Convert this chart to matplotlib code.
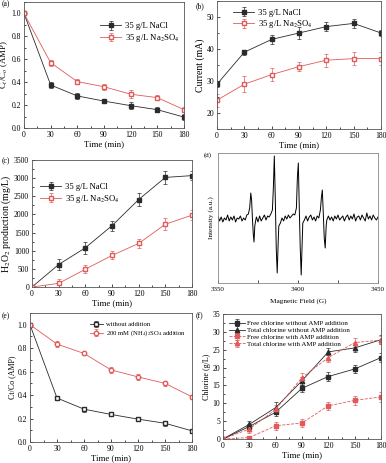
"""
plot.py
Six panel figure: AMP removal, current, H2O2, EPR, (NH4)2SO4 effect, chlorine
"""

import numpy as np
import matplotlib.pyplot as plt
from matplotlib.ticker import MultipleLocator

# Data
time = [0, 30, 60, 90, 120, 150, 180]

# (a) AMP removal
a_nacl = [1.0, 0.375, 0.28, 0.235, 0.195, 0.16, 0.095]
a_nacl_err = [0.01, 0.025, 0.025, 0.02, 0.03, 0.02, 0.025]
a_na2so4 = [1.0, 0.57, 0.405, 0.36, 0.295, 0.265, 0.16]
a_na2so4_err = [0.01, 0.025, 0.02, 0.025, 0.035, 0.02, 0.02]

# (b) current
b_nacl = [29, 39, 43, 45, 47, 48, 45]
b_nacl_err = [1.0, 0.8, 1.5, 2.0, 1.5, 1.5, 1.0]
b_na2so4 = [24, 29, 32, 34.5, 36.5, 37, 37]
b_na2so4_err = [2.0, 2.5, 2.0, 1.5, 2.0, 2.0, 2.0]

# (c) H2O2 production
c_nacl = [0, 620, 1080, 1690, 2410, 3020, 3070]
c_nacl_err = [30, 150, 160, 140, 170, 170, 120]
c_na2so4 = [0, 100, 490, 870, 1200, 1730, 1980]
c_na2so4_err = [30, 130, 110, 110, 120, 160, 130]

# (d) EPR spectrum (field in G, intensity in a.u.)
epr_field = [3350, 3351, 3352, 3353, 3354, 3355, 3356, 3357, 3358, 3359,
             3360, 3361, 3362, 3363, 3364, 3365, 3366, 3367, 3368, 3369,
             3369.8, 3370.5, 3371, 3371.5, 3372, 3372.5, 3373, 3373.5,
             3374, 3375, 3376, 3377, 3378, 3379, 3380, 3381, 3382, 3383,
             3384, 3384.6, 3385.2, 3385.8, 3386.4, 3387, 3387.6, 3388,
             3389, 3390, 3391, 3392, 3393, 3394, 3395, 3396, 3397, 3398,
             3399, 3399.6, 3400.2, 3400.8, 3401.4, 3402, 3402.6, 3403,
             3404, 3405, 3406, 3407, 3408, 3409, 3410, 3411, 3412, 3413,
             3414, 3414.6, 3415.2, 3415.8, 3416.4, 3417, 3417.6, 3418,
             3419, 3420, 3421, 3422, 3423, 3424, 3425, 3426, 3427, 3428,
             3429, 3430, 3431, 3432, 3433, 3434, 3435, 3436, 3437, 3438,
             3439, 3440, 3441, 3442, 3443, 3444, 3445, 3446, 3447, 3448,
             3449, 3450]
epr_int = [2, -3, 1, -4, 0, -2, 3, -3, 1, -2,
           2, -4, 0, -1, 2, -3, 0, -2, 3, 4,
           10, 25, 18, 0, -15, -24, -8, -3,
           1, -4, 2, -3, 0, 3, -2, 2, 1, 4,
           8, 30, 62, 20, -30, -55, -25, -8,
           -5, 0, -3, 2, -1, 3, 0, 2, 4, 3,
           10, 40, 55, 10, -30, -57, -25, -5,
           -2, 2, -3, 1, 3, -2, 1, -3, 2, 0,
           8, 20, 28, 5, -20, -30, -8, -2,
           2, -2, 1, -3, 2, -1, 3, -2, 0, 2,
           -3, 1, 3, -2, 2, -1, 4, -3, 1, 2,
           -2, 3, 0, -3, 5, -1, 2, -2, 3, 0,
           -2, 1]

# (e) effect of (NH4)2SO4
e_without = [1.0, 0.375, 0.28, 0.235, 0.195, 0.16, 0.095]
e_without_err = [0.01, 0.02, 0.02, 0.015, 0.015, 0.02, 0.02]
e_with = [1.0, 0.835, 0.755, 0.615, 0.555, 0.50, 0.385]
e_with_err = [0.01, 0.025, 0.015, 0.025, 0.025, 0.02, 0.02]

# (f) chlorine
f_free_without = [0, 3.5, 7.5, 14.2, 17.5, 19.6, 22.8]
f_free_without_err = [0.2, 0.8, 1.0, 1.0, 1.2, 1.2, 1.2]
f_total_without = [0, 4.1, 8.8, 16.3, 24.4, 25.5, 27.8]
f_total_without_err = [0.2, 1.0, 1.5, 1.2, 1.0, 1.2, 1.2]
f_free_with = [0, 0.4, 3.7, 4.5, 9.3, 10.8, 11.8]
f_free_with_err = [0.2, 0.5, 1.2, 1.0, 1.2, 1.2, 1.5]
f_total_with = [0, 2.8, 8.3, 17.2, 22.8, 27.0, 27.7]
f_total_with_err = [0.2, 1.0, 1.2, 1.2, 1.2, 1.2, 1.2]

# Figure size in pixels
W, H = 386, 463
BLK = '#2b2b2b'
RED = '#e05a5a'
FS = 5.5

plt.rcParams['font.family'] = ['Liberation Serif', 'DejaVu Serif']
plt.rcParams['mathtext.fontset'] = 'stix'
plt.rcParams['font.size'] = FS


def add_axes(fig, left, top, right, bottom):
    # pixel box -> figure fraction
    return fig.add_axes([left / W, 1 - bottom / H, (right - left) / W, (bottom - top) / H])


def style(ax):
    ax.tick_params(which='both', direction='in', labelsize=FS, width=0.5, pad=2)
    ax.tick_params(which='major', length=2.5)
    ax.tick_params(which='minor', length=1.5)
    for s in ax.spines.values():
        s.set_linewidth(0.6)
        s.set_color('#555555')
    ax.set_xlim(0, 180)
    ax.xaxis.set_major_locator(MultipleLocator(30))
    ax.xaxis.set_minor_locator(MultipleLocator(15))
    ax.set_xlabel('Time (min)', fontsize=FS + 0.8, labelpad=1)


def series(ax, y, err, col, mfc, marker, ls, label):
    ax.errorbar(time, y, yerr=err, color=col, mfc=mfc, mec=col, marker=marker,
                ms=3.2, lw=0.6, ls=ls, elinewidth=0.5, capsize=1.5, capthick=0.5,
                ecolor=col, label=label)


def legend(ax, **kw):
    ax.legend(frameon=False, fontsize=FS + 0.7, handlelength=2.5, handletextpad=0.4,
              labelspacing=0.2, **kw)


fig = plt.figure(figsize=(W / 100, H / 100), dpi=100)

# (a)
ax = add_axes(fig, 24, 2, 184, 128)
series(ax, a_nacl, a_nacl_err, BLK, BLK, 's', '-', '35 g/L NaCl')
series(ax, a_na2so4, a_na2so4_err, RED, 'white', 's', '-', '35 g/L Na$_2$SO$_4$')
ax.set_ylim(0, 1.1)
ax.yaxis.set_major_locator(MultipleLocator(0.2))
ax.yaxis.set_minor_locator(MultipleLocator(0.1))
ax.set_ylabel('C$_t$/C$_o$ (AMP)', fontsize=FS + 0.8, labelpad=1)
style(ax)
legend(ax, loc='upper right', bbox_to_anchor=(1.02, 0.9))
fig.text(2 / W, 1 - 6 / H, '(a)', fontsize=FS)

# (b)
ax = add_axes(fig, 217, 1, 381, 129)
series(ax, b_nacl, b_nacl_err, BLK, BLK, 's', '-', '35 g/L NaCl')
series(ax, b_na2so4, b_na2so4_err, RED, 'white', 's', '-', '35 g/L Na$_2$SO$_4$')
ax.set_ylim(15, 55)
ax.yaxis.set_major_locator(MultipleLocator(10))
ax.yaxis.set_minor_locator(MultipleLocator(5))
ax.set_ylabel('Current (mA)', fontsize=FS + 1.5, labelpad=1)
style(ax)
legend(ax, loc='upper left', bbox_to_anchor=(0.05, 1.0))
fig.text(196 / W, 1 - 8 / H, '(b)', fontsize=FS)

# (c)
ax = add_axes(fig, 32, 160, 192, 287)
series(ax, c_nacl, c_nacl_err, BLK, BLK, 's', '-', '35 g/L NaCl')
series(ax, c_na2so4, c_na2so4_err, RED, 'white', 's', '-', '35 g/L Na$_2$SO$_4$')
ax.set_ylim(0, 3500)
ax.yaxis.set_major_locator(MultipleLocator(500))
ax.yaxis.set_minor_locator(MultipleLocator(250))
ax.set_ylabel('H$_2$O$_2$ production (mg/L)', fontsize=FS + 1.5, labelpad=1)
style(ax)
legend(ax, loc='upper left', bbox_to_anchor=(0.0, 0.88))
fig.text(2 / W, 1 - 163 / H, '(c)', fontsize=FS)

# (d)
ax = add_axes(fig, 218, 153, 378, 283)
ax.plot(epr_field, epr_int, color='black', lw=0.7)
ax.set_xlim(3350, 3450)
ax.set_ylim(-65, 65)
ax.set_xticks([3350, 3400, 3450])
ax.xaxis.set_minor_locator(MultipleLocator(25))
ax.set_yticks([])
ax.tick_params(which='both', direction='in', labelsize=FS - 0.5, width=0.5, pad=3)
ax.tick_params(which='major', length=2.5)
ax.tick_params(which='minor', length=2.5)
for s in ax.spines.values():
    s.set_linewidth(0.6)
    s.set_color('#888888')
ax.set_xlabel('Magnetic Field (G)', fontsize=FS - 0.3, labelpad=4)
ax.set_ylabel('Intensity (a.u.)', fontsize=FS - 0.3, labelpad=3)
fig.text(204 / W, 1 - 157 / H, '(d)', fontsize=FS - 0.5)

# (e)
ax = add_axes(fig, 30, 313, 192, 442)
series(ax, e_without, e_without_err, BLK, 'white', 's', '-', 'without addition')
series(ax, e_with, e_with_err, RED, 'white', 'o', '-', '200 mM (NH$_4$)$_2$SO$_4$ addition')
ax.set_ylim(0, 1.1)
ax.yaxis.set_major_locator(MultipleLocator(0.2))
ax.yaxis.set_minor_locator(MultipleLocator(0.1))
ax.set_ylabel('Ct/Co (AMP)', fontsize=FS + 0.3, labelpad=1)
style(ax)
ax.legend(frameon=False, fontsize=FS - 0.7, handlelength=2, handletextpad=0.4,
          labelspacing=0.2, loc='upper right', bbox_to_anchor=(1.0, 0.98))
fig.text(2 / W, 1 - 318 / H, '(e)', fontsize=FS)

# (f)
ax = add_axes(fig, 223, 314, 381, 439)
series(ax, f_free_without, f_free_without_err, BLK, BLK, 's', '-', 'Free chlorine without AMP addition')
series(ax, f_total_without, f_total_without_err, BLK, BLK, '^', '-', 'Total chlorine without AMP addition')
series(ax, f_free_with, f_free_with_err, RED, RED, 's', '--', 'Free chlorine with AMP addition')
series(ax, f_total_with, f_total_with_err, RED, RED, '^', '--', 'Total chlorine with AMP addition')
ax.set_ylim(0, 35)
ax.yaxis.set_major_locator(MultipleLocator(5))
ax.yaxis.set_minor_locator(MultipleLocator(2.5))
ax.set_ylabel('Chlorine (g/L)', fontsize=FS + 0.3, labelpad=1)
style(ax)
ax.legend(frameon=False, fontsize=FS - 0.5, handlelength=2.2, handletextpad=0.4,
          labelspacing=0.15, loc='upper left', bbox_to_anchor=(0.0, 1.0))
fig.text(196 / W, 1 - 318 / H, '(f)', fontsize=FS)

plt.savefig('out.png', dpi=100)
